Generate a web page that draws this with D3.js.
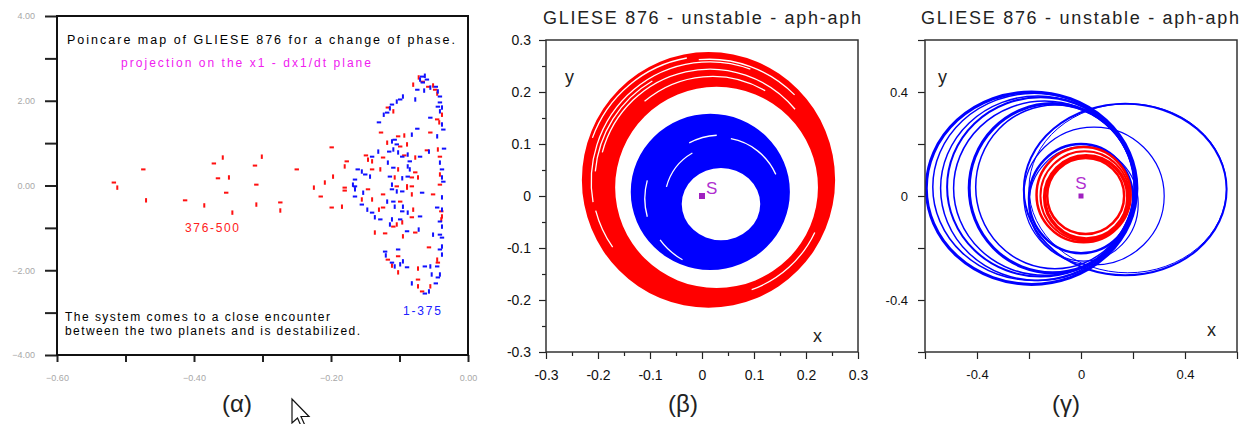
<!DOCTYPE html>
<html>
<head>
<meta charset="utf-8">
<script src="https://cdn.jsdelivr.net/npm/d3@7"></script>
<style>
  body { margin: 0; background: #fff; }
  svg { display: block; font-family: "Liberation Sans", Arial, sans-serif; }
</style>
</head>
<body>
<script>
// ---- data ----

// (α) poincare section, x1 vs dx1/dt
const alphaRed = [
  [-0.517,0.07],[-0.512,-0.05],[-0.474,0.38],[-0.470,-0.35],[-0.413,-0.35],[-0.385,-0.47],
  [-0.371,0.52],[-0.358,0.66],[-0.365,0.17],[-0.349,0.19],[-0.353,-0.17],[-0.344,-0.64],
  [-0.311,0.47],[-0.301,0.68],[-0.309,0.02],[-0.309,-0.45],[-0.274,-0.40],[-0.274,-0.59],
  [-0.250,0.38],[-0.225,-0.05],[-0.215,-0.26],[-0.209,0.07],[-0.199,0.90],[-0.197,0.21],
  [-0.199,-0.52],[-0.184,-0.50],[-0.180,-0.05],[-0.180,0.45],[-0.177,0.57],
  [-0.072,2.55],[-0.066,2.45],[-0.080,2.38],[-0.058,2.33],[-0.051,2.36],[-0.048,2.26],
  [-0.045,2.17],[-0.117,1.84],[-0.109,1.75],[-0.127,1.25],[-0.038,1.67],[-0.045,1.56],
  [-0.042,1.49],[-0.055,1.25],[-0.093,1.18],[-0.102,1.16],[-0.118,1.01],[-0.099,0.92],
  [-0.089,0.97],[-0.093,0.71],[-0.077,0.66],[-0.060,0.83],[-0.044,0.85],[-0.041,0.68],
  [-0.041,0.26],[-0.041,0.02],[-0.146,0.61],[-0.149,0.71],[-0.140,0.57],[-0.124,0.66],
  [-0.102,0.38],[-0.077,0.31],[-0.073,0.19],[-0.082,0.19],[-0.107,0.19],[-0.104,-0.02],
  [-0.089,-0.02],[-0.140,0.38],[-0.128,0.38],
  [-0.180,-0.12],[-0.155,-0.33],[-0.146,-0.09],[-0.140,-0.33],[-0.124,-0.21],[-0.130,-0.57],
  [-0.124,-0.52],[-0.089,-0.05],[-0.082,-0.02],[-0.082,-0.21],[-0.099,-0.38],[-0.080,-0.57],
  [-0.082,-0.75],[-0.104,-0.92],[-0.109,-0.97],[-0.096,-0.87],[-0.077,-1.11],[-0.095,-1.20],
  [-0.121,-1.13],[-0.136,-1.11],[-0.051,-0.21],[-0.038,-0.73],[-0.039,-0.61],[-0.039,-0.80],
  [-0.057,-1.46],[-0.045,-1.75],[-0.044,-1.82],[-0.055,-2.38],[-0.067,-2.50],[-0.073,-2.38],
  [-0.073,-2.22],[-0.073,-1.96],[-0.117,-1.75],[-0.111,-1.89],[-0.102,-1.67],[-0.102,-2.05]
];
const alphaBlue = [
  [-0.067,2.57],[-0.063,2.59],[-0.060,2.50],[-0.070,2.50],[-0.066,2.43],[-0.055,2.31],
  [-0.047,2.33],[-0.044,2.22],[-0.041,2.10],[-0.064,2.24],[-0.074,2.26],[-0.095,2.10],
  [-0.099,2.03],[-0.104,1.98],[-0.111,1.91],[-0.114,1.82],[-0.118,1.72],[-0.123,1.67],
  [-0.130,1.49],[-0.077,2.03],[-0.041,1.96],[-0.038,1.84],[-0.044,1.86],[-0.041,1.75],
  [-0.055,1.60],[-0.038,1.44],[-0.036,1.32],[-0.045,1.16],[-0.074,1.34],[-0.082,1.20],
  [-0.107,1.08],[-0.111,1.04],[-0.104,0.97],[-0.109,0.85],[-0.115,0.80],[-0.102,0.78],
  [-0.096,0.68],[-0.088,0.73],[-0.070,0.68],[-0.057,0.80],[-0.035,0.87],[-0.041,0.54],
  [-0.038,0.38],[-0.038,0.19],[-0.036,0.09],[-0.131,0.80],[-0.140,0.68],[-0.117,0.54],
  [-0.109,0.42],[-0.088,0.45],[-0.085,0.57],[-0.085,0.38],[-0.088,0.21],[-0.096,0.17],
  [-0.114,0.21],[-0.111,0.02],[-0.161,0.38],[-0.155,0.33],[-0.150,0.26],[-0.143,0.21],
  [-0.165,0.14],[-0.168,0.02],
  [-0.165,-0.02],[-0.165,-0.09],[-0.165,-0.26],[-0.153,-0.17],[-0.155,-0.45],[-0.147,-0.57],
  [-0.140,-0.64],[-0.136,-0.75],[-0.128,-0.80],[-0.118,-0.38],[-0.109,-0.38],[-0.107,-0.50],
  [-0.111,-0.09],[-0.104,-0.14],[-0.096,-0.14],[-0.095,-0.50],[-0.096,-0.61],[-0.088,-0.64],
  [-0.070,-0.73],[-0.111,-0.80],[-0.099,-0.80],[-0.114,-0.92],[-0.089,-1.08],[-0.072,-1.04],
  [-0.067,-0.17],[-0.038,-0.28],[-0.045,-0.52],[-0.038,-0.57],[-0.041,-0.85],[-0.038,-0.97],
  [-0.041,-1.16],[-0.051,-1.16],[-0.038,-1.23],[-0.038,-1.44],[-0.041,-1.51],[-0.038,-1.63],
  [-0.045,-1.91],[-0.055,-1.91],[-0.063,-1.91],[-0.041,-2.10],[-0.044,-2.17],[-0.053,-2.10],
  [-0.047,-2.31],[-0.057,-2.50],[-0.063,-2.55],[-0.082,-2.31],[-0.121,-1.56],[-0.120,-1.65],
  [-0.111,-1.82],[-0.107,-1.91],[-0.102,-1.51],[-0.095,-1.79],[-0.089,-1.93],[-0.099,-1.86]
];
const alphaXTicks = [-0.6,-0.5,-0.4,-0.3,-0.2,-0.1,0];
const alphaYTicks = [-4,-3,-2,-1,0,1,2,3,4];

// (β) orbit bands [cx, cy, rx, ry]
const betaRedOuter  = [0.0125, 0.031, 0.2435, 0.246];
const betaRedInner  = [0.028, 0.0165, 0.195, 0.1935];
const betaBlueOuter = [0.016, 0.008, 0.153, 0.150];
const betaBlueInner = [0.0365, -0.0155, 0.0755, 0.0695];
// white gaps inside the bands [cx, cy, rx, ry, fromDeg, toDeg]
const betaRedGaps = [
  [0.015,0.028,0.228,0.230,70,190],
  [0.015,0.028,0.214,0.216,40,165],
  [0.012,0.030,0.237,0.239,100,160],
  [0.020,0.025,0.203,0.205,60,130],
  [0.015,0.028,0.221,0.223,120,175],
  [0.014,0.029,0.232,0.234,45,95],
  [0.022,0.020,0.215,0.213,-70,-25],
  [0.010,0.030,0.222,0.224,195,215]
];
const betaBlueGaps = [
  [0.035,-0.010,0.118,0.122,25,80],
  [0.035,-0.010,0.127,0.127,93,118],
  [0.035,-0.010,0.107,0.107,120,165],
  [0.030,-0.005,0.140,0.135,165,195],
  [0.030,-0.010,0.135,0.130,215,240]
];
const betaTicks = [-0.3,-0.2,-0.1,0,0.1,0.2,0.3];
const betaMinor = [-0.25,-0.15,-0.05,0.05,0.15,0.25];

// (γ) orbits [cx, cy, rx, ry, width]
const gammaBlue = [
  [-0.19,0.03,0.405,0.37,3],
  [-0.18,0.035,0.39,0.36,1.5],
  [-0.165,0.03,0.375,0.355,1.5],
  [-0.155,0.035,0.36,0.345,2],
  [-0.14,0.03,0.35,0.335,1.5],
  [-0.11,0.03,0.32,0.325,3],
  [-0.10,0.035,0.305,0.315,1.5],
  [0.17,0.025,0.39,0.33,2],
  [0.18,0.03,0.38,0.325,1],
  [0.05,0.0,0.27,0.265,1.2],
  [0.0,-0.01,0.20,0.21,2.5],
  [0.01,-0.03,0.21,0.22,1.2]
];
const gammaRed = [
  [0.010,0.005,0.181,0.183,2.5],
  [0.015,0.0,0.171,0.172,2],
  [0.020,-0.005,0.160,0.160,3.5],
  [0.018,0.0,0.148,0.146,2.5]
];
const gammaTicks = [-0.6,-0.4,-0.2,0,0.2,0.4,0.6];
const gammaLabelled = [-0.4,0,0.4];

const orbitTitle = "GLIESE 876 - unstable - aph-aph";

// ---- drawing ----
const svg = d3.select("body").append("svg").attr("width", 1249).attr("height", 424);

function ellipsePath(sx, sy, o) {
    const cx = sx(o[0]), cy = sy(o[1]);
    const rx = sx(o[2]) - sx(0), ry = sy(0) - sy(o[3]);
    return `M${cx - rx},${cy}A${rx},${ry} 0 1,0 ${cx + rx},${cy}A${rx},${ry} 0 1,0 ${cx - rx},${cy}Z`;
}

function arcPath(sx, sy, o) {
    const cx = sx(o[0]), cy = sy(o[1]);
    const rx = sx(o[2]) - sx(0), ry = sy(0) - sy(o[3]);
    const a0 = o[4] * Math.PI / 180, a1 = o[5] * Math.PI / 180;
    const large = (o[5] - o[4]) > 180 ? 1 : 0;
    return `M${cx + rx * Math.cos(a0)},${cy - ry * Math.sin(a0)}` +
           `A${rx},${ry} 0 ${large},0 ${cx + rx * Math.cos(a1)},${cy - ry * Math.sin(a1)}`;
}

function clipFor(id, x0, y0, w, h) {
    svg.append("clipPath").attr("id", id)
        .append("rect").attr("x", x0).attr("y", y0).attr("width", w).attr("height", h);
}

function styleAxis(g, color, size) {
    g.select(".domain").remove();
    g.selectAll("line").attr("stroke", "#222").attr("stroke-width", 1.2);
    g.selectAll("text").attr("fill", color).style("font-size", size + "px")
        .style("font-family", "'Liberation Sans', Arial, sans-serif");
}

// ===== panel α =====
const ax = d3.scaleLinear().domain([-0.6, 0]).range([57, 468]);
const ay = d3.scaleLinear().domain([-4, 4]).range([355, 16]);

const gA = svg.append("g");
gA.append("g").attr("transform", "translate(57,0)")
    .call(d3.axisLeft(ay).tickValues(alphaYTicks).tickSize(12).tickPadding(10)
        .tickFormat(d => d % 2 === 0 ? d3.format(".2f")(d) : ""))
    .call(g => styleAxis(g, "#a8a8a8", 9));
gA.append("g").attr("transform", "translate(0,355)")
    .call(d3.axisBottom(ax).tickValues(alphaXTicks).tickSize(7).tickPadding(13)
        .tickFormat((d, i) => i % 2 === 0 ? d3.format(".2f")(d) : ""))
    .call(g => styleAxis(g, "#a8a8a8", 9));
gA.selectAll(".tick line").attr("stroke-width", 2);

gA.append("rect").attr("x", 57).attr("y", 16).attr("width", 411).attr("height", 339)
    .attr("fill", "none").attr("stroke", "#111").attr("stroke-width", 2);

function dashes(data, color) {
    gA.append("g").selectAll("rect").data(data).join("rect")
        .attr("x", (d, i) => ax(d[0]) - (i % 2 ? 1 : 2.2))
        .attr("y", (d, i) => ay(d[1]) - (i % 2 ? 2.2 : 1))
        .attr("width", (d, i) => i % 2 ? 2 : 4.4)
        .attr("height", (d, i) => i % 2 ? 4.4 : 2)
        .attr("fill", color);
}
dashes(alphaRed, "#ff1010");
dashes(alphaBlue, "#1010ff");

gA.append("text").attr("x", 67).attr("y", 44).attr("textLength", 388)
    .attr("lengthAdjust", "spacing").style("font-size", "12.5px").attr("fill", "#000")
    .text("Poincare map of GLIESE 876 for a change of phase.");
gA.append("text").attr("x", 121).attr("y", 67).attr("textLength", 250)
    .attr("lengthAdjust", "spacing").style("font-size", "12px").attr("fill", "#f020f0")
    .text("projection on the x1 - dx1/dt plane");
gA.append("text").attr("x", 185).attr("y", 232).attr("textLength", 54)
    .attr("lengthAdjust", "spacing").style("font-size", "12px").attr("fill", "#ff2020")
    .text("376-500");
gA.append("text").attr("x", 403).attr("y", 315).attr("textLength", 38)
    .attr("lengthAdjust", "spacing").style("font-size", "12px").attr("fill", "#2020ff")
    .text("1-375");
gA.append("text").attr("x", 65).attr("y", 321).attr("textLength", 265)
    .attr("lengthAdjust", "spacing").style("font-size", "12px").attr("fill", "#000")
    .text("The system comes to a close encounter");
gA.append("text").attr("x", 65).attr("y", 335).attr("textLength", 295)
    .attr("lengthAdjust", "spacing").style("font-size", "12px").attr("fill", "#000")
    .text("between the two planets and is destabilized.");

// ===== panel β =====
const bx = d3.scaleLinear().domain([-0.3, 0.3]).range([546, 858]);
const by = d3.scaleLinear().domain([-0.3, 0.3]).range([352, 40]);
clipFor("clipB", 546, 40, 312, 312);

const gB = svg.append("g");
gB.append("text").attr("x", 702).attr("y", 24).attr("text-anchor", "middle")
    .attr("textLength", 318).attr("lengthAdjust", "spacing")
    .style("font-size", "18px").attr("fill", "#222").text(orbitTitle);

const gBplot = gB.append("g").attr("clip-path", "url(#clipB)");
gBplot.append("path").attr("fill-rule", "evenodd").attr("fill", "#ff0000")
    .attr("d", ellipsePath(bx, by, betaRedOuter) + ellipsePath(bx, by, betaRedInner));
gBplot.append("path").attr("fill-rule", "evenodd").attr("fill", "#0000ff")
    .attr("d", ellipsePath(bx, by, betaBlueOuter) + ellipsePath(bx, by, betaBlueInner));
gBplot.selectAll(".gap").data(betaRedGaps.concat(betaBlueGaps)).join("path")
    .attr("class", "gap").attr("d", d => arcPath(bx, by, d))
    .attr("fill", "none").attr("stroke", "#fff").attr("stroke-width", 1.3);

gB.append("g").attr("transform", "translate(546,0)")
    .call(d3.axisLeft(by).tickValues(betaTicks).tickSize(7).tickPadding(8).tickFormat(d => String(d)))
    .call(g => styleAxis(g, "#111", 14));
gB.append("g").attr("transform", "translate(546,0)")
    .call(d3.axisLeft(by).tickValues(betaMinor).tickSize(4).tickFormat(""))
    .call(g => styleAxis(g, "#111", 14));
gB.append("g").attr("transform", "translate(0,352)")
    .call(d3.axisBottom(bx).tickValues(betaTicks).tickSize(7).tickPadding(11).tickFormat(d => String(d)))
    .call(g => styleAxis(g, "#111", 14));
gB.append("g").attr("transform", "translate(0,352)")
    .call(d3.axisBottom(bx).tickValues(betaMinor).tickSize(4).tickFormat(""))
    .call(g => styleAxis(g, "#111", 14));
gB.append("rect").attr("x", 546).attr("y", 40).attr("width", 312).attr("height", 312)
    .attr("fill", "none").attr("stroke", "#333").attr("stroke-width", 1.5);

gB.append("rect").attr("x", bx(0) - 3).attr("y", by(0) - 3).attr("width", 6).attr("height", 6)
    .attr("fill", "#a020c0");
gB.append("text").attr("x", bx(0) + 4).attr("y", by(0) - 2).style("font-size", "17px")
    .attr("fill", "#b030d0").text("S");
gB.append("text").attr("x", 565).attr("y", 83).style("font-size", "18px").attr("fill", "#222").text("y");
gB.append("text").attr("x", 813).attr("y", 342).style("font-size", "18px").attr("fill", "#222").text("x");

// ===== panel γ =====
const cxs = d3.scaleLinear().domain([-0.6, 0.6]).range([925, 1237]);
const cys = d3.scaleLinear().domain([-0.6, 0.6]).range([352, 40]);
clipFor("clipC", 925, 40, 312, 312);

const gC = svg.append("g");
gC.append("text").attr("x", 1080).attr("y", 24).attr("text-anchor", "middle")
    .attr("textLength", 318).attr("lengthAdjust", "spacing")
    .style("font-size", "18px").attr("fill", "#222").text(orbitTitle);

const gCplot = gC.append("g").attr("clip-path", "url(#clipC)");
gCplot.selectAll(".blue").data(gammaBlue).join("path").attr("class", "blue")
    .attr("d", d => ellipsePath(cxs, cys, d))
    .attr("fill", "none").attr("stroke", "#0000ff").attr("stroke-width", d => d[4]);
gCplot.selectAll(".red").data(gammaRed).join("path").attr("class", "red")
    .attr("d", d => ellipsePath(cxs, cys, d))
    .attr("fill", "none").attr("stroke", "#ff0000").attr("stroke-width", d => d[4]);

const fmtG = d => gammaLabelled.includes(d) ? String(d) : "";
gC.append("g").attr("transform", "translate(925,0)")
    .call(d3.axisLeft(cys).tickValues(gammaTicks).tickSize(7).tickPadding(10).tickFormat(fmtG))
    .call(g => styleAxis(g, "#111", 13));
gC.append("g").attr("transform", "translate(0,352)")
    .call(d3.axisBottom(cxs).tickValues(gammaTicks).tickSize(7).tickPadding(11).tickFormat(fmtG))
    .call(g => styleAxis(g, "#111", 13));
gC.append("rect").attr("x", 925).attr("y", 40).attr("width", 312).attr("height", 312)
    .attr("fill", "none").attr("stroke", "#333").attr("stroke-width", 1.5);

gC.append("rect").attr("x", cxs(0) - 2.5).attr("y", cys(0) - 2.5).attr("width", 5).attr("height", 5)
    .attr("fill", "#a020c0");
gC.append("text").attr("x", cxs(0)).attr("y", cys(0) - 7).attr("text-anchor", "middle")
    .style("font-size", "17px").attr("fill", "#b030d0").text("S");
gC.append("text").attr("x", 938).attr("y", 83).style("font-size", "18px").attr("fill", "#222").text("y");
gC.append("text").attr("x", 1207).attr("y", 336).style("font-size", "18px").attr("fill", "#222").text("x");

// ===== panel captions =====
[["(α)", 237], ["(β)", 683], ["(γ)", 1066]].forEach(([t, x]) => {
    svg.append("text").attr("x", x).attr("y", 412).attr("text-anchor", "middle")
        .style("font-size", "24px").attr("fill", "#222").text(t);
});

// mouse pointer left in the screenshot
svg.append("path")
    .attr("d", "M292,399 L292,423 L297.5,418 L301.5,427 L305,425.5 L301,416.5 L309,416.5 Z")
    .attr("fill", "#fff").attr("stroke", "#111").attr("stroke-width", 1.2);
</script>
</body>
</html>
